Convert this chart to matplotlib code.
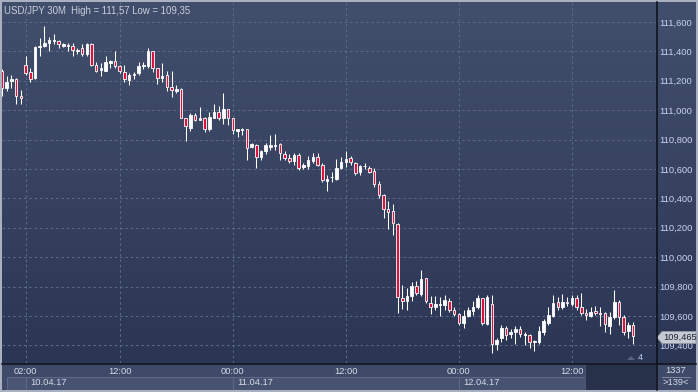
import numpy as np
import matplotlib
matplotlib.use("Agg")
import matplotlib.pyplot as plt
from matplotlib.patches import Rectangle, Polygon
from matplotlib.colors import LinearSegmentedColormap
from matplotlib.transforms import blended_transform_factory

plt.rcParams['font.family'] = ['Liberation Sans', 'DejaVu Sans']

# ---------------- data (USD/JPY 30M) ----------------
open_ = [111.27, 111.15, 111.20, 111.21, 111.10, 111.31, 111.26, 111.22, 111.43, 111.44,
         111.46, 111.47, 111.47, 111.44, 111.44, 111.44, 111.40, 111.42, 111.38, 111.45,
         111.31, 111.275, 111.27, 111.32, 111.335, 111.30, 111.26, 111.205, 111.237, 111.25,
         111.30, 111.30, 111.40, 111.285, 111.22, 111.24, 111.16, 111.13, 111.145, 110.945,
         110.88, 110.97, 110.935, 110.95, 110.87, 110.95, 110.985, 110.945, 111.005, 110.945,
         110.86, 110.865, 110.87, 110.75, 110.763, 110.685, 110.72, 110.75, 110.755, 110.77,
         110.70, 110.673, 110.654, 110.695, 110.615, 110.62, 110.655, 110.68, 110.63, 110.52,
         110.543, 110.535, 110.61, 110.645, 110.673, 110.64, 110.58, 110.618, 110.605, 110.585,
         110.495, 110.423, 110.326, 110.314, 110.224, 109.72, 109.704, 109.736, 109.804, 109.75,
         109.857, 109.69, 109.66, 109.675, 109.675, 109.70, 109.64, 109.614, 109.555, 109.60,
         109.636, 109.66, 109.72, 109.545, 109.68, 109.41, 109.45, 109.516, 109.475, 109.49,
         109.51, 109.47, 109.47, 109.42, 109.42, 109.493, 109.555, 109.60, 109.697, 109.66,
         109.697, 109.68, 109.72, 109.66, 109.62, 109.60, 109.634, 109.62, 109.62, 109.53,
         109.59, 109.697, 109.59, 109.50, 109.54]
high = [111.28, 111.23, 111.24, 111.22, 111.14, 111.37, 111.29, 111.44, 111.49, 111.57,
        111.50, 111.52, 111.48, 111.46, 111.46, 111.455, 111.42, 111.45, 111.455, 111.455,
        111.33, 111.32, 111.37, 111.34, 111.40, 111.31, 111.31, 111.25, 111.26, 111.33,
        111.33, 111.42, 111.40, 111.29, 111.32, 111.27, 111.27, 111.17, 111.15, 110.95,
        110.98, 110.98, 111.02, 110.955, 110.99, 111.045, 111.03, 111.12, 111.01, 110.95,
        110.875, 110.88, 110.875, 110.78, 110.77, 110.73, 110.775, 110.83, 110.84, 110.78,
        110.72, 110.70, 110.71, 110.71, 110.64, 110.69, 110.71, 110.71, 110.64, 110.56,
        110.58, 110.67, 110.68, 110.72, 110.69, 110.65, 110.63, 110.64, 110.62, 110.61,
        110.52, 110.43, 110.38, 110.36, 110.23, 109.81, 109.79, 109.83, 109.84, 109.91,
        109.86, 109.736, 109.736, 109.73, 109.74, 109.72, 109.66, 109.62, 109.64, 109.66,
        109.70, 109.74, 109.72, 109.74, 109.74, 109.45, 109.54, 109.53, 109.51, 109.53,
        109.53, 109.49, 109.48, 109.44, 109.53, 109.58, 109.66, 109.74, 109.73, 109.75,
        109.73, 109.74, 109.74, 109.755, 109.65, 109.66, 109.67, 109.66, 109.63, 109.63,
        109.777, 109.71, 109.61, 109.56, 109.56]
low = [111.10, 111.13, 111.15, 111.04, 111.04, 111.24, 111.19, 111.21, 111.37, 111.43,
       111.40, 111.45, 111.42, 111.43, 111.40, 111.37, 111.38, 111.37, 111.37, 111.30,
       111.26, 111.23, 111.27, 111.29, 111.285, 111.25, 111.19, 111.17, 111.21, 111.24,
       111.28, 111.29, 111.26, 111.18, 111.19, 111.13, 111.09, 111.12, 110.945, 110.79,
       110.86, 110.925, 110.93, 110.85, 110.86, 110.945, 110.93, 110.905, 110.90, 110.84,
       110.82, 110.83, 110.66, 110.74, 110.61, 110.66, 110.70, 110.73, 110.73, 110.66,
       110.66, 110.64, 110.63, 110.59, 110.60, 110.60, 110.64, 110.62, 110.51, 110.45,
       110.51, 110.525, 110.60, 110.615, 110.63, 110.56, 110.56, 110.60, 110.57, 110.48,
       110.40, 110.265, 110.19, 110.15, 109.62, 109.65, 109.64, 109.70, 109.74, 109.736,
       109.69, 109.614, 109.64, 109.60, 109.64, 109.63, 109.60, 109.54, 109.52, 109.59,
       109.61, 109.65, 109.54, 109.54, 109.35, 109.37, 109.42, 109.44, 109.45, 109.41,
       109.46, 109.40, 109.38, 109.36, 109.41, 109.47, 109.54, 109.59, 109.64, 109.65,
       109.67, 109.67, 109.64, 109.61, 109.57, 109.59, 109.61, 109.53, 109.49, 109.48,
       109.58, 109.54, 109.47, 109.45, 109.41]
close = [111.15, 111.19, 111.21, 111.10, 111.08, 111.25, 111.21, 111.43, 111.435, 111.46,
         111.48, 111.48, 111.45, 111.45, 111.443, 111.41, 111.41, 111.38, 111.45, 111.31,
         111.27, 111.285, 111.33, 111.335, 111.30, 111.27, 111.21, 111.24, 111.245, 111.30,
         111.31, 111.40, 111.29, 111.22, 111.235, 111.155, 111.14, 111.145, 110.95, 110.89,
         110.97, 110.93, 110.945, 110.87, 110.955, 110.985, 110.945, 111.005, 110.945, 110.865,
         110.87, 110.872, 110.745, 110.77, 110.684, 110.72, 110.76, 110.76, 110.765, 110.71,
         110.673, 110.657, 110.695, 110.61, 110.63, 110.66, 110.685, 110.63, 110.525, 110.535,
         110.547, 110.61, 110.65, 110.67, 110.65, 110.575, 110.62, 110.622, 110.58, 110.50,
         110.42, 110.326, 110.31, 110.23, 109.727, 109.70, 109.736, 109.804, 109.755, 109.85,
         109.70, 109.66, 109.68, 109.68, 109.71, 109.64, 109.614, 109.55, 109.60, 109.64,
         109.66, 109.72, 109.55, 109.73, 109.41, 109.44, 109.516, 109.47, 109.49, 109.51,
         109.475, 109.478, 109.42, 109.43, 109.497, 109.566, 109.607, 109.69, 109.66, 109.697,
         109.686, 109.72, 109.66, 109.62, 109.607, 109.63, 109.62, 109.612, 109.545, 109.59,
         109.697, 109.59, 109.493, 109.54, 109.465]

first_candle_hour = -0.5          # hours relative to 10.04.17 00:00
candle_step_hours = 0.5           # 30M
price_ticks = [109.4, 109.6, 109.8, 110.0, 110.2, 110.4, 110.6, 110.8, 111.0, 111.2, 111.4, 111.6]
time_tick_hours = [2, 12, 24, 36, 48, 60]
time_tick_labels = ["02:00", "12:00", "00:00", "12:00", "00:00", "12:00"]
date_start_hours = [2, 24, 48]
date_labels = ["10.04.17", "11.04.17", "12.04.17"]
title = "USD/JPY 30M  High = 111,57 Low = 109,35"
last_price_label = "109,465"
counter_top, counter_bottom, small_count = "1337", ">139<", "4"

# ---------------- layout helpers ----------------
W, H = 698, 392
fig = plt.figure(figsize=(W / 100, H / 100), dpi=100, facecolor='#a9b0bf')

def px_axes(x0, y0, x1, y1, **kw):
    return fig.add_axes([x0 / W, 1 - y1 / H, (x1 - x0) / W, (y1 - y0) / H], **kw)

def fx(x):
    return x / W

def fy(y):
    return 1 - y / H

# background gradient (plot + right scale)
bg = px_axes(2, 2, 696, 363)
cmap = LinearSegmentedColormap.from_list('bg', ['#424f6c', '#2b3655'])
bg.imshow(np.linspace(0, 1, 256).reshape(-1, 1), cmap=cmap, aspect='auto',
          extent=[0, 1, 0, 1], transform=bg.transAxes)
bg.set_axis_off()

# main axes
ax = px_axes(2, 2, 656, 363)
ax.patch.set_alpha(0)
x_left = -0.5 - (2 - 6.71 + 4.71) / 9.42 * 0 - 0.35
xs = first_candle_hour + candle_step_hours * np.arange(len(open_))
# pixel mapping: x_px = 6.71 + 9.42 * hour ; y_px = 22 + (111.6 - p) * 147
ax.set_xlim((2 - 6.71) / 9.42, (656 - 6.71) / 9.42)
ax.set_ylim(111.6 - (363 - 22) / 147, 111.6 + (22 - 2) / 147)

grid_kw = dict(color='#5e6c8c', lw=0.7, ls=(0, (2.5, 3)), zorder=1)
for p in price_ticks:
    ax.axhline(p, **grid_kw)
for h in time_tick_hours:
    ax.axvline(h, **grid_kw)

o = np.array(open_); c = np.array(close); hi = np.array(high); lo = np.array(low)
ax.vlines(xs, lo, hi, color='white', lw=0.75, zorder=2)
bottoms = np.minimum(o, c)
heights = np.maximum(np.abs(c - o), 0.003)
colors = np.where(c >= o, 'white', '#dc143c')
ax.bar(xs, heights, bottom=bottoms, width=0.27, color=colors,
       edgecolor='white', linewidth=0.6, zorder=3)

ax.yaxis.tick_right()
ax.set_yticks(price_ticks)
ax.set_yticklabels([f"{p:,.3f}".replace('.', ',') for p in price_ticks])
ax.tick_params(axis='y', length=0, pad=2.5, labelsize=6.7, labelcolor='#c7d3ee')
ax.set_xticks([])
for s in ax.spines.values():
    s.set_visible(False)

# bottom time panel
axb = px_axes(2, 363, 656, 390)
axb.set_facecolor('#3e4a67')
axb.set_xlim(ax.get_xlim())
axb.set_ylim(0, 1)
axb.set_xticks([]); axb.set_yticks([])
for s in axb.spines.values():
    s.set_visible(False)
for h, lab in zip(time_tick_hours, time_tick_labels):
    axb.text(h, 0.70, lab, ha='center', va='center', fontsize=6.7, color='#d4dbe8')
date_ends = date_start_hours[1:] + [(585 - 6.71) / 9.42]
for h0, h1, lab in zip(date_start_hours, date_ends, date_labels):
    axb.add_patch(Rectangle((h0, 0), h1 - h0, 0.5, facecolor='#46526f',
                            edgecolor='#5d6986', lw=0.8, zorder=1))
    axb.text(h0 + 0.5, 0.26, lab, ha='left', va='center', fontsize=6.7,
             color='#d4dbe8', zorder=2)
axb.add_patch(Rectangle((0, 0), 2, 0.5, facecolor='#4a5673',
                        edgecolor='#5d6986', lw=0.8, zorder=1))
x585 = (585 - 6.71) / 9.42
axb.add_patch(Rectangle((x585, 0), ax.get_xlim()[1] - x585, 1,
                        facecolor='#27314a', edgecolor='#4a5570', lw=0.8, zorder=1))

# bottom right panel
axc = px_axes(656, 363, 696, 390)
axc.set_facecolor('#3e4a67')
axc.set_xticks([]); axc.set_yticks([])
for s in axc.spines.values():
    s.set_visible(False)
axc.text(0.5, 0.72, counter_top, ha='center', va='center', fontsize=6.7, color='#d4dbe8')
axc.plot([0.15, 0.85], [0.48, 0.48], color='#8792aa', lw=0.6)
axc.text(0.5, 0.26, counter_bottom, ha='center', va='center', fontsize=6.7, color='#d4dbe8')
axc.set_xlim(0, 1); axc.set_ylim(0, 1)

# separator lines
fig.add_artist(plt.Line2D([fx(656.5), fx(656.5)], [fy(2), fy(390)], color='#0c0f16', lw=1.1))
fig.add_artist(plt.Line2D([fx(2), fx(696)], [fy(363.5), fy(363.5)], color='#0c0f16', lw=1.1))

# title
fig.text(fx(4), fy(10.5), title, ha='left', va='center', fontsize=6.9, color='#c8cfdc')

# last price tag
tag = Polygon([(fx(657), fy(337.5)), (fx(662), fy(331.5)), (fx(696), fy(331.5)),
               (fx(696), fy(343.5)), (fx(662), fy(343.5))], closed=True,
              facecolor='#c6cad2', edgecolor='#8e96a6', lw=0.6, transform=fig.transFigure)
fig.add_artist(tag)
fig.text(fx(663), fy(337.5), last_price_label, ha='left', va='center', fontsize=6.7,
         color='#1d2331')

# small counter near bottom right of chart
tri = Polygon([(fx(627), fy(360)), (fx(631), fy(356)), (fx(635), fy(360))], closed=True,
              facecolor='#56627d', edgecolor='none', transform=fig.transFigure)
fig.add_artist(tri)
fig.text(fx(640), fy(357.5), small_count, ha='center', va='center', fontsize=6.7,
         color='#b9c9ea')

fig.savefig('out.png', dpi=100, facecolor=fig.get_facecolor())
